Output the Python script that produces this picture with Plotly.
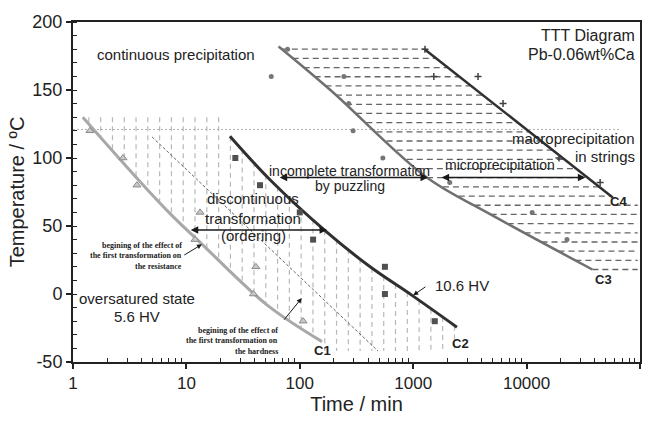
import numpy as np
import plotly.graph_objects as go

# ---------------- data ----------------
# curves (time in min, temperature in degC)
c1_t = [1.22, 4.17, 7.4, 13.2, 51.3, 157]
c1_T = [130, 80, 58, 38, -8, -35]
c2_t = [24.2, 54.6, 167, 417, 977, 2430]
c2_T = [116, 84, 46.6, 20, -1, -24.4]
c3_t = [65, 186, 1320, 4470, 38000]
c3_T = [182, 150, 85.6, 60, 18]
c4_t = [1260, 57500]
c4_T = [180, 71]
hard_t = [4.98, 490]          # onset of the effect on hardness (thin dashed)
hard_T = [115.5, -42]
limit_t = [1, 66000]          # dotted horizontal line
limit_T = [121, 121]

# measured points
tri_t = [1.41, 2.76, 3.66, 13.2, 11.9, 41, 39, 107]
tri_T = [120, 100, 80, 60, 40, 20, 0, -20]
sq_t = [27, 44.6, 100, 131, 563, 563, 1550]
sq_T = [100, 80, 60, 40, 20, 0, -20]
cir_t = [78, 56, 245, 270, 295, 540, 2100, 11200, 22700]
cir_T = [180, 160, 160, 140, 120, 100, 82, 60, 40]
star_t = [1270, 1520, 3730, 6200, 19300, 44500]
star_T = [180, 160, 160, 140, 100, 82]

x_tickvals = [1, 10, 100, 1000, 10000, 100000]
x_ticktext = ["1", "10", "100", "1000", "10000", "100000"]
y_tickvals = [-50, 0, 50, 100, 150, 200]
y_ticktext = ["-50", "0", "50", "100", "150", "200"]

FONT = "Arial, Liberation Sans, sans-serif"
SERIF = "Times New Roman, Liberation Serif, serif"

lg = np.log10


def T_at(ct, cT, u):
    return float(np.interp(u, lg(ct), cT))


def u_at(ct, cT, T):
    return float(np.interp(T, cT[::-1], lg(ct)[::-1]))


# ---------------- hatching geometry (derived from curves) ----------------
vx, vy = [], []
u = 0.14
c1u = lg(c1_t)
c2u = lg(c2_t)
while u < c2u[-1] - 0.01:
    top = 130.0 if u < c2u[0] else T_at(c2_t, c2_T, u)
    top = min(top, 130.0)
    bot = T_at(c1_t, c1_T, u) if u <= c1u[-1] else -42.0
    if top - bot > 2:
        vx += [10 ** u, 10 ** u, None]
        vy += [top, bot, None]
    u += 0.104

hx, hy = [], []
for k in range(25):
    T = 180 - 6.75 * k
    left = u_at(c3_t, c3_T, T)
    right = u_at(c4_t, c4_T, T) if T >= c4_T[-1] else 4.98
    if right > left:
        hx += [10 ** left, 10 ** right, None]
        hy += [T, T, None]

fig = go.Figure()

fig.add_trace(go.Scatter(x=vx, y=vy, mode="lines",
                         line=dict(color="#b8b8b8", width=1.2, dash="5px,4px"),
                         hoverinfo="skip"))
fig.add_trace(go.Scatter(x=hx, y=hy, mode="lines",
                         line=dict(color="#666666", width=1.3, dash="6px,4px"),
                         hoverinfo="skip"))
fig.add_trace(go.Scatter(x=limit_t, y=limit_T, mode="lines",
                         line=dict(color="#b0b0b0", width=1, dash="2px,2px")))
fig.add_trace(go.Scatter(x=hard_t, y=hard_T, mode="lines",
                         line=dict(color="#666666", width=1, dash="3px,2px")))

fig.add_trace(go.Scatter(x=c1_t, y=c1_T, mode="lines", line=dict(color="#a8a8a8", width=3, shape="spline")))
fig.add_trace(go.Scatter(x=c2_t, y=c2_T, mode="lines", line=dict(color="#303030", width=3, shape="spline")))
fig.add_trace(go.Scatter(x=c3_t, y=c3_T, mode="lines", line=dict(color="#707070", width=2.5, shape="spline")))
fig.add_trace(go.Scatter(x=c4_t, y=c4_T, mode="lines", line=dict(color="#303030", width=2.5)))

fig.add_trace(go.Scatter(x=tri_t, y=tri_T, mode="markers",
                         marker=dict(symbol="triangle-up", size=7, color="#c8c8c8",
                                     line=dict(color="#8a8a8a", width=1))))
fig.add_trace(go.Scatter(x=sq_t, y=sq_T, mode="markers",
                         marker=dict(symbol="square", size=6, color="#505050")))
fig.add_trace(go.Scatter(x=cir_t, y=cir_T, mode="markers",
                         marker=dict(symbol="circle", size=5, color="#767676")))
fig.add_trace(go.Scatter(x=star_t, y=star_T, mode="markers",
                         marker=dict(symbol="cross-thin", size=5, color="#404040",
                                     line=dict(color="#404040", width=1.5))))

ann = []


def px2paper(px, py):
    return (px - 73) / 567.0, (369 - py) / 352.0


def text(px, py, s, size=15, xanchor="center", family=FONT, bold=False, color="#222222"):
    x, y = px2paper(px, py)
    if bold:
        s = "<b>" + s + "</b>"
    ann.append(dict(x=x, y=y, xref="paper", yref="paper", text=s, showarrow=False,
                    xanchor=xanchor, yanchor="middle",
                    font=dict(size=size, family=family, color=color)))


def arrow(t0, T0, t1, T1, both=False, width=1.5, size=1.0, head=2, color="#1a1a1a"):
    ann.append(dict(x=lg(t1), y=T1, ax=lg(t0), ay=T0, xref="x", yref="y",
                    axref="x", ayref="y", text="", showarrow=True,
                    arrowhead=head, startarrowhead=head, arrowsize=size, startarrowsize=size,
                    arrowwidth=width, arrowcolor=color,
                    arrowside="end+start" if both else "end"))


text(176, 51, "continuous precipitation", 15)
text(637, 31, "TTT Diagram", 16, xanchor="right")
text(637, 51, "Pb-0.06wt%Ca", 16, xanchor="right")
text(137, 303, "oversatured state", 15)
text(137, 322, "5.6 HV", 15)
text(253, 200, "discontinuous", 15)
text(253, 220, "transformation", 15)
text(253, 238, "(ordering)", 15)
text(349, 171, "incomplete transformation", 14)
text(350, 187, "by puzzling", 14)
text(500, 165, "microprecipitation", 14)
text(637, 138, "macroprecipitation", 15, xanchor="right")
text(637, 156, "in strings", 15, xanchor="right")
text(462, 290, "10.6 HV", 15)
text(322, 357, "C1", 13, bold=True)
text(460, 350, "C2", 13, bold=True)
text(603, 284, "C3", 13, bold=True)
text(618, 203, "C4", 13, bold=True)
for i, s in enumerate(["begining of the effect of", "the first transformation on", "the resistance"]):
    text(184, 248 + i * 11, s, 8, xanchor="right", family=SERIF, bold=True)
for i, s in enumerate(["begining of the effect of", "the first transformation on", "the hardness"]):
    text(280, 336 + i * 11, s, 8, xanchor="right", family=SERIF, bold=True)

arrow(10.6, 47, 174, 47, both=True)
arrow(64.5, 85.6, 1350, 85.6, both=True)
arrow(34000, 85.6, 1780, 85.6, both=True)
arrow(9.3, 28, 13.7, 36.5, width=1, size=1.0)
arrow(71, -20, 104, -3, width=1, size=1.0)
arrow(1320, 6, 1000, -1, width=1, size=1.0)

minor_x = [m * 10 ** d for d in range(5) for m in range(2, 10)]

fig.update_layout(
    width=667, height=423,
    margin=dict(l=73, r=27, t=17, b=54),
    paper_bgcolor="white", plot_bgcolor="white",
    showlegend=False,
    annotations=ann,
    font=dict(family=FONT, color="#222222"),
    xaxis=dict(type="log", range=[0, 5], tickmode="array", tickvals=x_tickvals, ticktext=x_ticktext,
               showgrid=False, zeroline=False, showline=True, linecolor="#222222", linewidth=2,
               mirror=True, ticks="outside", ticklen=5, tickwidth=1.5, tickcolor="#222222",
               tickfont=dict(size=17, family=FONT, color="#222222"),
               minor=dict(tickmode="array", tickvals=minor_x, ticks="inside", ticklen=4,
                          tickcolor="#222222", tickwidth=1, showgrid=False),
               title=dict(text="Time / min", font=dict(size=20, family=FONT, color="#222222"), standoff=4)),
    yaxis=dict(range=[-50, 200], tickmode="array", tickvals=y_tickvals, ticktext=y_ticktext,
               showgrid=False, zeroline=False, showline=True, linecolor="#222222", linewidth=2,
               mirror=True, ticks="outside", ticklen=5, tickwidth=1.5, tickcolor="#222222",
               tickfont=dict(size=18, family=FONT, color="#222222"),
               minor=dict(dtick=10, tick0=0, ticks="inside", ticklen=4, tickcolor="#222222",
                          tickwidth=1, showgrid=False),
               title=dict(text="Temperature / ºC", font=dict(size=20, family=FONT, color="#222222"), standoff=2)),
)

fig.write_html("out.html")
